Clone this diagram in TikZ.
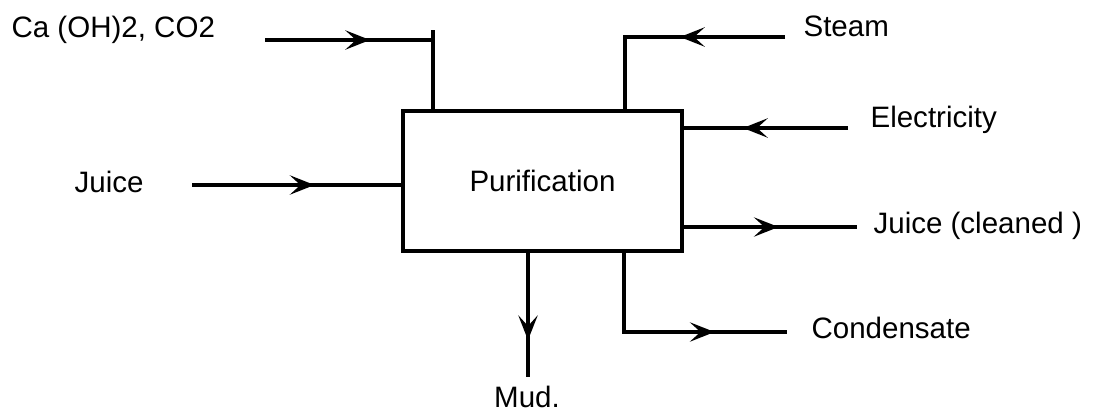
\documentclass[tikz,border=0pt]{standalone}
\usepackage{fontspec}
\setmainfont{Liberation Sans}
\usetikzlibrary{arrows.meta,decorations.markings}

\begin{document}
\begin{tikzpicture}[
    x=0.02cm, y=-0.02cm,
    line width=1.8pt,
    every node/.style={font=\fontsize{16.8}{19}\selectfont, inner sep=0pt},
    unit/.style={draw, minimum width=5.58cm, minimum height=2.8cm},
    tag/.style={anchor=base west},
    flow/.style={decoration={markings, mark=at position #1 with {\arrow{Stealth[length=14pt,width=11pt,inset=6pt]}}}, postaction={decorate}}
  ]
  \useasboundingbox (0,0) rectangle (1105,419);
  \node[unit] (pur) at (542.5,181) {Purification};

  \node[tag] (ca)    at (10,37)   {Ca (OH)2, CO2};
  \node[tag] (juice) at (73,192)  {Juice};
  \node[tag] (steam) at (802,36)  {Steam};
  \node[tag] (elec)  at (869,127) {Electricity};
  \node[tag] (clean) at (872,233) {Juice (cleaned )};
  \node[tag] (cond)  at (810,338) {Condensate};
  \node[anchor=base] (mud) at (527,407) {Mud.};

  \coordinate (ca-in)      at (265,40);
  \coordinate (ca-bend)    at (433,40);
  \coordinate (ca-tick)    at (433,30);
  \coordinate (steam-in)   at (785,37);
  \coordinate (steam-bend) at (625,37);
  \coordinate (elec-in)    at (848,128);
  \coordinate (juice-in)   at (192,185);
  \coordinate (clean-out)  at (857,227);
  \coordinate (cond-bend)  at (624,332);
  \coordinate (cond-out)   at (787,332);
  \coordinate (mud-out)    at (528,377);

  \draw[flow=2.1cm] (ca-in) -- (ca-bend);
  \draw (ca-tick) -- (ca-tick |- pur.north);
  \draw[flow=2.1cm] (steam-in) -- (steam-bend) -- (steam-bend |- pur.north);
  \draw[flow=2.1cm] (elec-in) -- (elec-in -| pur.east);
  \draw[flow=2.45cm] (juice-in) -- (juice-in -| pur.west);
  \draw[flow=1.9cm] (clean-out -| pur.east) -- (clean-out);
  \draw[flow=3.4cm] (cond-bend |- pur.south) -- (cond-bend) -- (cond-out);
  \draw[flow=1.75cm] (mud-out |- pur.south) -- (mud-out);
\end{tikzpicture}
\end{document}
